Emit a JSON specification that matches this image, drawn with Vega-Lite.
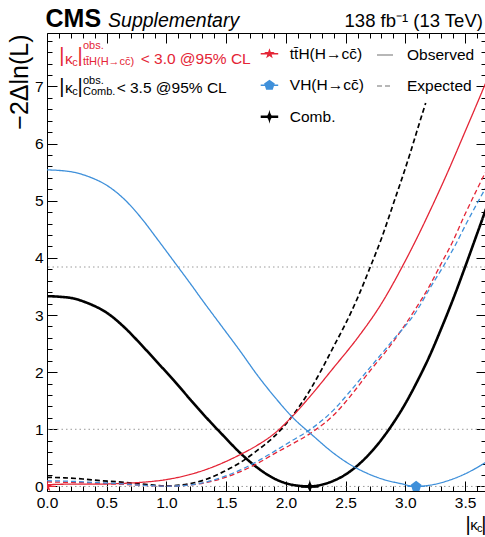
{
"$schema":"https://vega.github.io/schema/vega-lite/v6.json",
"width":439,"height":458,
"autosize":"none",
"padding":{"left":47,"top":33,"right":0,"bottom":46},
"background":"white",
"config":{"font":"Liberation Sans","view":{"stroke":"black","strokeWidth":1},
"axis":{"labelColor":"black","tickColor":"black","titleColor":"black","labelFont":"Liberation Sans","titleFont":"Liberation Sans"},
"legend":{"labelFont":"Liberation Sans","labelColor":"black"}},
"resolve":{"axis":{"x":"independent","y":"independent"}},
"datasets":{
"curves":[
{"kc":0,"dnll":3.33,"channel":"Comb.","kind":"Observed"},{"kc":0.1,"dnll":3.32,"channel":"Comb.","kind":"Observed"},{"kc":0.22,"dnll":3.29,"channel":"Comb.","kind":"Observed"},{"kc":0.35,"dnll":3.2,"channel":"Comb.","kind":"Observed"},{"kc":0.5,"dnll":3.04,"channel":"Comb.","kind":"Observed"},{"kc":0.65,"dnll":2.78,"channel":"Comb.","kind":"Observed"},{"kc":0.78,"dnll":2.5,"channel":"Comb.","kind":"Observed"},{"kc":0.92,"dnll":2.18,"channel":"Comb.","kind":"Observed"},{"kc":1.06,"dnll":1.86,"channel":"Comb.","kind":"Observed"},{"kc":1.2,"dnll":1.52,"channel":"Comb.","kind":"Observed"},{"kc":1.34,"dnll":1.19,"channel":"Comb.","kind":"Observed"},{"kc":1.48,"dnll":0.88,"channel":"Comb.","kind":"Observed"},{"kc":1.62,"dnll":0.58,"channel":"Comb.","kind":"Observed"},{"kc":1.76,"dnll":0.33,"channel":"Comb.","kind":"Observed"},{"kc":1.9,"dnll":0.14,"channel":"Comb.","kind":"Observed"},{"kc":2.05,"dnll":0.03,"channel":"Comb.","kind":"Observed"},{"kc":2.2,"dnll":0,"channel":"Comb.","kind":"Observed"},{"kc":2.3,"dnll":0.03,"channel":"Comb.","kind":"Observed"},{"kc":2.4,"dnll":0.1,"channel":"Comb.","kind":"Observed"},{"kc":2.5,"dnll":0.21,"channel":"Comb.","kind":"Observed"},{"kc":2.59,"dnll":0.35,"channel":"Comb.","kind":"Observed"},{"kc":2.73,"dnll":0.64,"channel":"Comb.","kind":"Observed"},{"kc":2.87,"dnll":1.02,"channel":"Comb.","kind":"Observed"},{"kc":3.0,"dnll":1.45,"channel":"Comb.","kind":"Observed"},{"kc":3.1,"dnll":1.84,"channel":"Comb.","kind":"Observed"},{"kc":3.2,"dnll":2.27,"channel":"Comb.","kind":"Observed"},{"kc":3.3,"dnll":2.76,"channel":"Comb.","kind":"Observed"},{"kc":3.4,"dnll":3.28,"channel":"Comb.","kind":"Observed"},{"kc":3.5,"dnll":3.84,"channel":"Comb.","kind":"Observed"},{"kc":3.6,"dnll":4.42,"channel":"Comb.","kind":"Observed"},{"kc":3.7,"dnll":5.0,"channel":"Comb.","kind":"Observed"},
{"kc":0,"dnll":0.16,"channel":"Comb.","kind":"Expected"},{"kc":0.15,"dnll":0.15,"channel":"Comb.","kind":"Expected"},{"kc":0.3,"dnll":0.13,"channel":"Comb.","kind":"Expected"},{"kc":0.45,"dnll":0.1,"channel":"Comb.","kind":"Expected"},{"kc":0.6,"dnll":0.08,"channel":"Comb.","kind":"Expected"},{"kc":0.8,"dnll":0.04,"channel":"Comb.","kind":"Expected"},{"kc":1.0,"dnll":0.01,"channel":"Comb.","kind":"Expected"},{"kc":1.2,"dnll":0.05,"channel":"Comb.","kind":"Expected"},{"kc":1.34,"dnll":0.13,"channel":"Comb.","kind":"Expected"},{"kc":1.48,"dnll":0.26,"channel":"Comb.","kind":"Expected"},{"kc":1.62,"dnll":0.42,"channel":"Comb.","kind":"Expected"},{"kc":1.76,"dnll":0.63,"channel":"Comb.","kind":"Expected"},{"kc":1.9,"dnll":0.87,"channel":"Comb.","kind":"Expected"},{"kc":2.06,"dnll":1.25,"channel":"Comb.","kind":"Expected"},{"kc":2.2,"dnll":1.68,"channel":"Comb.","kind":"Expected"},{"kc":2.3,"dnll":2.05,"channel":"Comb.","kind":"Expected"},{"kc":2.4,"dnll":2.45,"channel":"Comb.","kind":"Expected"},{"kc":2.5,"dnll":2.85,"channel":"Comb.","kind":"Expected"},{"kc":2.6,"dnll":3.3,"channel":"Comb.","kind":"Expected"},{"kc":2.71,"dnll":3.86,"channel":"Comb.","kind":"Expected"},{"kc":2.8,"dnll":4.34,"channel":"Comb.","kind":"Expected"},{"kc":2.9,"dnll":4.95,"channel":"Comb.","kind":"Expected"},{"kc":3.04,"dnll":5.83,"channel":"Comb.","kind":"Expected"},{"kc":3.1,"dnll":6.24,"channel":"Comb.","kind":"Expected"},{"kc":3.17,"dnll":6.71,"channel":"Comb.","kind":"Expected"},
{"kc":0,"dnll":0.03,"channel":"ttH","kind":"Observed"},{"kc":0.2,"dnll":0.04,"channel":"ttH","kind":"Observed"},{"kc":0.4,"dnll":0.04,"channel":"ttH","kind":"Observed"},{"kc":0.6,"dnll":0.05,"channel":"ttH","kind":"Observed"},{"kc":0.78,"dnll":0.07,"channel":"ttH","kind":"Observed"},{"kc":1.0,"dnll":0.12,"channel":"ttH","kind":"Observed"},{"kc":1.2,"dnll":0.21,"channel":"ttH","kind":"Observed"},{"kc":1.4,"dnll":0.35,"channel":"ttH","kind":"Observed"},{"kc":1.62,"dnll":0.56,"channel":"ttH","kind":"Observed"},{"kc":1.76,"dnll":0.72,"channel":"ttH","kind":"Observed"},{"kc":1.9,"dnll":0.92,"channel":"ttH","kind":"Observed"},{"kc":2.06,"dnll":1.24,"channel":"ttH","kind":"Observed"},{"kc":2.2,"dnll":1.57,"channel":"ttH","kind":"Observed"},{"kc":2.4,"dnll":2.08,"channel":"ttH","kind":"Observed"},{"kc":2.6,"dnll":2.6,"channel":"ttH","kind":"Observed"},{"kc":2.8,"dnll":3.2,"channel":"ttH","kind":"Observed"},{"kc":2.98,"dnll":3.87,"channel":"ttH","kind":"Observed"},{"kc":3.1,"dnll":4.36,"channel":"ttH","kind":"Observed"},{"kc":3.21,"dnll":4.84,"channel":"ttH","kind":"Observed"},{"kc":3.35,"dnll":5.48,"channel":"ttH","kind":"Observed"},{"kc":3.49,"dnll":6.16,"channel":"ttH","kind":"Observed"},{"kc":3.6,"dnll":6.7,"channel":"ttH","kind":"Observed"},{"kc":3.7,"dnll":7.2,"channel":"ttH","kind":"Observed"},
{"kc":0,"dnll":0.08,"channel":"ttH","kind":"Expected"},{"kc":0.2,"dnll":0.07,"channel":"ttH","kind":"Expected"},{"kc":0.4,"dnll":0.06,"channel":"ttH","kind":"Expected"},{"kc":0.6,"dnll":0.04,"channel":"ttH","kind":"Expected"},{"kc":0.8,"dnll":0.02,"channel":"ttH","kind":"Expected"},{"kc":1.0,"dnll":0.005,"channel":"ttH","kind":"Expected"},{"kc":1.17,"dnll":0.02,"channel":"ttH","kind":"Expected"},{"kc":1.34,"dnll":0.07,"channel":"ttH","kind":"Expected"},{"kc":1.48,"dnll":0.15,"channel":"ttH","kind":"Expected"},{"kc":1.62,"dnll":0.26,"channel":"ttH","kind":"Expected"},{"kc":1.76,"dnll":0.4,"channel":"ttH","kind":"Expected"},{"kc":1.9,"dnll":0.57,"channel":"ttH","kind":"Expected"},{"kc":2.05,"dnll":0.74,"channel":"ttH","kind":"Expected"},{"kc":2.22,"dnll":0.95,"channel":"ttH","kind":"Expected"},{"kc":2.4,"dnll":1.25,"channel":"ttH","kind":"Expected"},{"kc":2.54,"dnll":1.58,"channel":"ttH","kind":"Expected"},{"kc":2.68,"dnll":1.96,"channel":"ttH","kind":"Expected"},{"kc":2.88,"dnll":2.48,"channel":"ttH","kind":"Expected"},{"kc":3.08,"dnll":3.09,"channel":"ttH","kind":"Expected"},{"kc":3.2,"dnll":3.5,"channel":"ttH","kind":"Expected"},{"kc":3.29,"dnll":3.86,"channel":"ttH","kind":"Expected"},{"kc":3.4,"dnll":4.3,"channel":"ttH","kind":"Expected"},{"kc":3.49,"dnll":4.72,"channel":"ttH","kind":"Expected"},{"kc":3.6,"dnll":5.2,"channel":"ttH","kind":"Expected"},{"kc":3.7,"dnll":5.62,"channel":"ttH","kind":"Expected"},
{"kc":0,"dnll":5.54,"channel":"VH","kind":"Observed"},{"kc":0.1,"dnll":5.53,"channel":"VH","kind":"Observed"},{"kc":0.22,"dnll":5.5,"channel":"VH","kind":"Observed"},{"kc":0.35,"dnll":5.42,"channel":"VH","kind":"Observed"},{"kc":0.5,"dnll":5.27,"channel":"VH","kind":"Observed"},{"kc":0.65,"dnll":5.02,"channel":"VH","kind":"Observed"},{"kc":0.78,"dnll":4.72,"channel":"VH","kind":"Observed"},{"kc":0.93,"dnll":4.31,"channel":"VH","kind":"Observed"},{"kc":1.09,"dnll":3.86,"channel":"VH","kind":"Observed"},{"kc":1.2,"dnll":3.55,"channel":"VH","kind":"Observed"},{"kc":1.3,"dnll":3.26,"channel":"VH","kind":"Observed"},{"kc":1.46,"dnll":2.81,"channel":"VH","kind":"Observed"},{"kc":1.62,"dnll":2.36,"channel":"VH","kind":"Observed"},{"kc":1.76,"dnll":1.95,"channel":"VH","kind":"Observed"},{"kc":1.9,"dnll":1.58,"channel":"VH","kind":"Observed"},{"kc":2.06,"dnll":1.2,"channel":"VH","kind":"Observed"},{"kc":2.22,"dnll":0.9,"channel":"VH","kind":"Observed"},{"kc":2.4,"dnll":0.58,"channel":"VH","kind":"Observed"},{"kc":2.54,"dnll":0.38,"channel":"VH","kind":"Observed"},{"kc":2.68,"dnll":0.23,"channel":"VH","kind":"Observed"},{"kc":2.82,"dnll":0.12,"channel":"VH","kind":"Observed"},{"kc":2.96,"dnll":0.05,"channel":"VH","kind":"Observed"},{"kc":3.08,"dnll":0,"channel":"VH","kind":"Observed"},{"kc":3.2,"dnll":0.02,"channel":"VH","kind":"Observed"},{"kc":3.37,"dnll":0.11,"channel":"VH","kind":"Observed"},{"kc":3.5,"dnll":0.22,"channel":"VH","kind":"Observed"},{"kc":3.6,"dnll":0.33,"channel":"VH","kind":"Observed"},{"kc":3.7,"dnll":0.46,"channel":"VH","kind":"Observed"},
{"kc":0,"dnll":0.1,"channel":"VH","kind":"Expected"},{"kc":0.2,"dnll":0.09,"channel":"VH","kind":"Expected"},{"kc":0.4,"dnll":0.07,"channel":"VH","kind":"Expected"},{"kc":0.6,"dnll":0.05,"channel":"VH","kind":"Expected"},{"kc":0.8,"dnll":0.02,"channel":"VH","kind":"Expected"},{"kc":1.0,"dnll":0.005,"channel":"VH","kind":"Expected"},{"kc":1.17,"dnll":0.02,"channel":"VH","kind":"Expected"},{"kc":1.34,"dnll":0.08,"channel":"VH","kind":"Expected"},{"kc":1.48,"dnll":0.17,"channel":"VH","kind":"Expected"},{"kc":1.62,"dnll":0.29,"channel":"VH","kind":"Expected"},{"kc":1.76,"dnll":0.44,"channel":"VH","kind":"Expected"},{"kc":1.9,"dnll":0.61,"channel":"VH","kind":"Expected"},{"kc":2.05,"dnll":0.8,"channel":"VH","kind":"Expected"},{"kc":2.22,"dnll":1.02,"channel":"VH","kind":"Expected"},{"kc":2.4,"dnll":1.34,"channel":"VH","kind":"Expected"},{"kc":2.54,"dnll":1.67,"channel":"VH","kind":"Expected"},{"kc":2.68,"dnll":2.02,"channel":"VH","kind":"Expected"},{"kc":2.88,"dnll":2.52,"channel":"VH","kind":"Expected"},{"kc":3.1,"dnll":3.09,"channel":"VH","kind":"Expected"},{"kc":3.2,"dnll":3.45,"channel":"VH","kind":"Expected"},{"kc":3.32,"dnll":3.86,"channel":"VH","kind":"Expected"},{"kc":3.42,"dnll":4.23,"channel":"VH","kind":"Expected"},{"kc":3.51,"dnll":4.6,"channel":"VH","kind":"Expected"},{"kc":3.6,"dnll":4.95,"channel":"VH","kind":"Expected"},{"kc":3.7,"dnll":5.33,"channel":"VH","kind":"Expected"}
],
"markers":[{"kc":0,"dnll":0,"process":"tt\u0304H(H\u2192cc\u0304)"},{"kc":3.09,"dnll":0,"process":"VH(H\u2192cc\u0304)"},{"kc":2.2,"dnll":0,"process":"Comb."}],
"guides":[{"dnll":0},{"dnll":1},{"dnll":3.84}]
},
"layer":[
{"data":{"name":"guides"},"mark":{"type":"rule","stroke":"#9a9a9a","strokeDash":[1.5,3],"strokeWidth":1},
"encoding":{"y":{"field":"dnll","type":"quantitative","scale":{"domain":[-0.08,7.935],"nice":false,"zero":false},"axis":null}}},
{"data":{"name":"curves"},"mark":{"type":"line","interpolate":"monotone","clip":true},
"encoding":{
"x":{"field":"kc","type":"quantitative","scale":{"domain":[0,3.675],"nice":false,"zero":false},
"axis":{"orient":"bottom","values":[0,0.1,0.2,0.3,0.4,0.5,0.6,0.7,0.8,0.9,1,1.1,1.2,1.3,1.4,1.5,1.6,1.7,1.8,1.9,2,2.1,2.2,2.3,2.4,2.5,2.6,2.7,2.8,2.9,3,3.1,3.2,3.3,3.4,3.5,3.6],"format":".1f",
"labelExpr":"abs(datum.value*2-round(datum.value*2))<0.001 ? datum.label : ''",
"tickSize":{"condition":{"test":"abs(datum.value*2-round(datum.value*2))<0.001","value":-10},"value":-5},
"labelPadding":14,"labelFontSize":15.5,"domain":false,"grid":false,"title":null,"tickWidth":1,"labelFlush":false,"labelOverlap":false}},
"y":{"field":"dnll","type":"quantitative","scale":{"domain":[-0.08,7.935],"nice":false,"zero":false},
"axis":{"orient":"left","values":[0,0.2,0.4,0.6,0.8,1,1.2,1.4,1.6,1.8,2,2.2,2.4,2.6,2.8,3,3.2,3.4,3.6,3.8,4,4.2,4.4,4.6,4.8,5,5.2,5.4,5.6,5.8,6,6.2,6.4,6.6,6.8,7,7.2,7.4,7.6,7.8],"format":".0f",
"labelExpr":"abs(datum.value-round(datum.value))<0.001 ? datum.label : ''",
"tickSize":{"condition":{"test":"abs(datum.value-round(datum.value))<0.001","value":-10},"value":-5},
"labelPadding":14,"labelFontSize":15.5,"domain":false,"grid":false,"tickWidth":1,"labelFlush":false,"labelOverlap":false,
"title":"\u22122\u0394ln(L)","titleFontSize":25,"titleFontWeight":"normal","titleAngle":-90,"titleAlign":"right","titleBaseline":"alphabetic","titleX":-20,"titleY":1}},
"stroke":{"field":"channel","type":"nominal","scale":{"domain":["ttH","VH","Comb."],"range":["#e42536","#3f90da","#000000"]},"legend":null},
"strokeDash":{"field":"kind","type":"nominal","scale":{"domain":["Observed","Expected"],"range":[[1,0],[5,3]]},
"legend":{"orient":"none","legendX":329,"legendY":13,"title":null,"symbolType":"stroke","symbolStrokeColor":"#a0a0a0","symbolStrokeWidth":1.5,"symbolSize":256,"rowPadding":13,"labelFontSize":15.5,"labelOffset":13,"padding":0}},
"strokeWidth":{"condition":[{"test":"datum.channel==='Comb.' && datum.kind==='Observed'","value":2.6},{"test":"datum.channel==='Comb.' && datum.kind==='Expected'","value":1.7}],"value":1.3}
}},
{"data":{"name":"markers"},"mark":{"type":"point","filled":true,"opacity":1,"size":196,"strokeWidth":0,"clip":true},
"encoding":{
"x":{"field":"kc","type":"quantitative","scale":{"domain":[0,3.675],"nice":false,"zero":false},
"axis":{"orient":"top","values":[0,0.1,0.2,0.3,0.4,0.5,0.6,0.7,0.8,0.9,1,1.1,1.2,1.3,1.4,1.5,1.6,1.7,1.8,1.9,2,2.1,2.2,2.3,2.4,2.5,2.6,2.7,2.8,2.9,3,3.1,3.2,3.3,3.4,3.5,3.6],"labels":false,
"tickSize":{"condition":{"test":"abs(datum.value*2-round(datum.value*2))<0.001","value":-10},"value":-5},"domain":false,"grid":false,"title":null,"tickWidth":1}},
"y":{"field":"dnll","type":"quantitative","scale":{"domain":[-0.08,7.935],"nice":false,"zero":false},
"axis":{"orient":"right","values":[0,0.2,0.4,0.6,0.8,1,1.2,1.4,1.6,1.8,2,2.2,2.4,2.6,2.8,3,3.2,3.4,3.6,3.8,4,4.2,4.4,4.6,4.8,5,5.2,5.4,5.6,5.8,6,6.2,6.4,6.6,6.8,7,7.2,7.4,7.6,7.8],"labels":false,
"tickSize":{"condition":{"test":"abs(datum.value-round(datum.value))<0.001","value":-10},"value":-5},"domain":false,"grid":false,"title":null,"tickWidth":1}},
"color":{"field":"process","type":"nominal","scale":{"domain":["tt\u0304H(H\u2192cc\u0304)","VH(H\u2192cc\u0304)","Comb."],"range":["#e42536","#3f90da","#000000"]},
"legend":{"orient":"none","legendX":214.7,"legendY":13,"title":null,"symbolSize":196,"rowPadding":14.5,"labelFontSize":15.5,"labelOffset":12.6,"padding":0,"symbolStrokeWidth":0,"labelLimit":300}},
"shape":{"field":"process","type":"nominal","scale":{"domain":["tt\u0304H(H\u2192cc\u0304)","VH(H\u2192cc\u0304)","Comb."],
"range":["M0,-0.8L0.188,-0.259L0.761,-0.247L0.304,0.099L0.47,0.647L0,0.32L-0.47,0.647L-0.304,0.099L-0.761,-0.247L-0.188,-0.259Z M-1.25,-0.09H1.25V0.09H-1.25Z",
"M0,-0.8L0.761,-0.247L0.47,0.647L-0.47,0.647L-0.761,-0.247Z M-1.25,-0.09H1.25V0.09H-1.25Z",
"M0,-1Q0.12,-0.15 0.55,0Q0.12,0.15 0,1Q-0.12,0.15 -0.55,0Q-0.12,-0.15 0,-1Z M-1.25,-0.18H1.25V0.18H-1.25Z"]},
"legend":{"orient":"none","legendX":214.7,"legendY":13,"title":null,"symbolSize":196,"rowPadding":14.5,"labelFontSize":15.5,"labelOffset":12.6,"padding":0,"symbolStrokeWidth":0,"labelLimit":300}}
}},
{"data":{"values":[{"kc":-0.012,"dnll":8.04,"t":"CMS"}]},"mark":{"type":"text","align":"left","baseline":"alphabetic","fontSize":25,"fontWeight":"bold","color":"black"},
"encoding":{"x":{"field":"kc","type":"quantitative","axis":null},"y":{"field":"dnll","type":"quantitative","axis":null},"text":{"field":"t"}}},
{"data":{"values":[{"kc":0.511,"dnll":8.04,"t":"Supplementary"}]},"mark":{"type":"text","align":"left","baseline":"alphabetic","fontSize":19.5,"fontStyle":"italic","color":"black"},
"encoding":{"x":{"field":"kc","type":"quantitative","axis":null},"y":{"field":"dnll","type":"quantitative","axis":null},"text":{"field":"t"}}},
{"data":{"values":[{"kc":3.649,"dnll":8.04,"t":"138 fb\u207b\u00b9 (13 TeV)"}]},"mark":{"type":"text","align":"right","baseline":"alphabetic","fontSize":18.5,"color":"black"},
"encoding":{"x":{"field":"kc","type":"quantitative","axis":null},"y":{"field":"dnll","type":"quantitative","axis":null},"text":{"field":"t"}}},
{"data":{"values":[{"kc":0.102,"dnll":7.428,"t":"|"},{"kc":0.256,"dnll":7.428,"t":"|"}]},"mark":{"type":"text","align":"left","baseline":"alphabetic","fontSize":20,"color":"#e42536"},
"encoding":{"x":{"field":"kc","type":"quantitative","axis":null},"y":{"field":"dnll","type":"quantitative","axis":null},"text":{"field":"t"}}},
{"data":{"values":[{"kc":0.151,"dnll":7.392,"t":"\u03ba"},{"kc":0.784,"dnll":7.392,"t":"< 3.0 @95% CL"}]},"mark":{"type":"text","align":"left","baseline":"alphabetic","fontSize":15.5,"color":"#e42536"},
"encoding":{"x":{"field":"kc","type":"quantitative","axis":null},"y":{"field":"dnll","type":"quantitative","axis":null},"text":{"field":"t"}}},
{"data":{"values":[{"kc":0.212,"dnll":7.366,"t":"c"},{"kc":0.301,"dnll":7.65,"t":"obs."},{"kc":0.301,"dnll":7.375,"t":"tt\u0304H(H\u2192cc\u0304)"}]},"mark":{"type":"text","align":"left","baseline":"alphabetic","fontSize":11,"color":"#e42536"},
"encoding":{"x":{"field":"kc","type":"quantitative","axis":null},"y":{"field":"dnll","type":"quantitative","axis":null},"text":{"field":"t"}}},
{"data":{"values":[{"kc":0.102,"dnll":6.893,"t":"|"},{"kc":0.256,"dnll":6.893,"t":"|"},{"kc":3.504,"dnll":-0.774,"t":"|"},{"kc":3.636,"dnll":-0.774,"t":"|"}]},"mark":{"type":"text","align":"left","baseline":"alphabetic","fontSize":20,"color":"black"},
"encoding":{"x":{"field":"kc","type":"quantitative","axis":null},"y":{"field":"dnll","type":"quantitative","axis":null},"text":{"field":"t"}}},
{"data":{"values":[{"kc":0.151,"dnll":6.88,"t":"\u03ba"},{"kc":0.583,"dnll":6.88,"t":"< 3.5 @95% CL"}]},"mark":{"type":"text","align":"left","baseline":"alphabetic","fontSize":15.5,"color":"black"},
"encoding":{"x":{"field":"kc","type":"quantitative","axis":null},"y":{"field":"dnll","type":"quantitative","axis":null},"text":{"field":"t"}}},
{"data":{"values":[{"kc":0.212,"dnll":6.85,"t":"c"},{"kc":0.301,"dnll":7.042,"t":"obs."},{"kc":0.301,"dnll":6.85,"t":"Comb."}]},"mark":{"type":"text","align":"left","baseline":"alphabetic","fontSize":11,"color":"black"},
"encoding":{"x":{"field":"kc","type":"quantitative","axis":null},"y":{"field":"dnll","type":"quantitative","axis":null},"text":{"field":"t"}}},
{"data":{"values":[{"kc":3.543,"dnll":-0.763,"t":"\u03ba"}]},"mark":{"type":"text","align":"left","baseline":"alphabetic","fontSize":15,"color":"black"},
"encoding":{"x":{"field":"kc","type":"quantitative","axis":null},"y":{"field":"dnll","type":"quantitative","axis":null},"text":{"field":"t"}}},
{"data":{"values":[{"kc":3.599,"dnll":-0.798,"t":"c"}]},"mark":{"type":"text","align":"left","baseline":"alphabetic","fontSize":11,"color":"black"},
"encoding":{"x":{"field":"kc","type":"quantitative","axis":null},"y":{"field":"dnll","type":"quantitative","axis":null},"text":{"field":"t"}}}
]
}
